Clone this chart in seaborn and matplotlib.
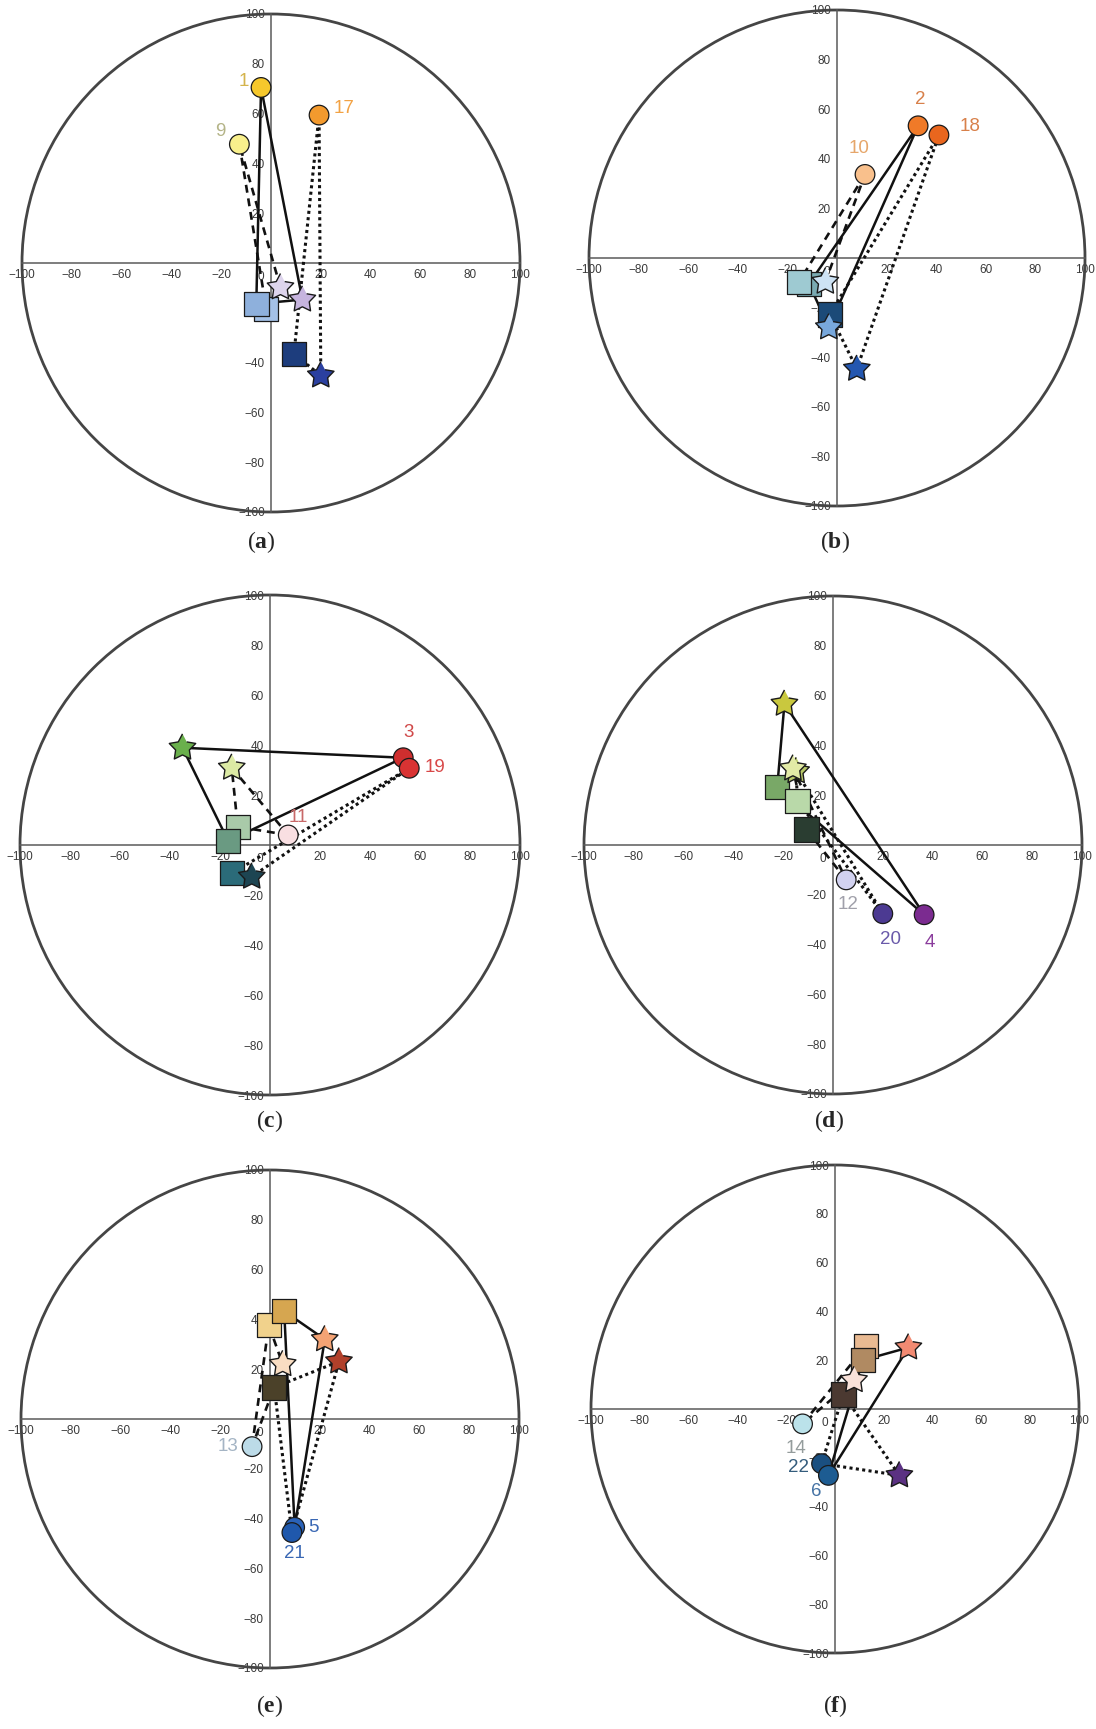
import matplotlib
matplotlib.use("Agg")
import matplotlib.pyplot as plt
import numpy as np
import pandas as pd
import seaborn as sns
from matplotlib.patches import Circle

# ---------------- data ----------------
# each panel: three groups (solid, dashed, dotted); group i = circle i, square i, star i
TICKS = list(range(-100, 101, 20))

A_LABELS = ['1', '9', '17']
A_CIRCLE_X = [-4.0, -12.7, 19.3]
A_CIRCLE_Y = [70.5, 47.7, 59.4]
A_SQUARE_X = [-5.9, -1.9, 9.2]
A_SQUARE_Y = [-16.4, -18.4, -36.5]
A_STAR_X = [12.6, 3.8, 20.0]
A_STAR_Y = [-14.7, -9.8, -45.2]
A_LABEL_X = [-11.0, -20.5, 29.5]
A_LABEL_Y = [73.0, 53.0, 62.0]

B_LABELS = ['2', '10', '18']
B_CIRCLE_X = [32.7, 11.3, 41.1]
B_CIRCLE_Y = [53.3, 33.7, 49.6]
B_SQUARE_X = [-11.3, -15.3, -2.9]
B_SQUARE_Y = [-10.4, -9.6, -22.7]
B_STAR_X = [-3.3, -4.7, 8.0]
B_STAR_Y = [-28.0, -9.6, -44.7]
B_LABEL_X = [33.5, 9.0, 53.5]
B_LABEL_Y = [64.0, 44.0, 53.0]

C_LABELS = ['3', '11', '19']
C_CIRCLE_X = [53.3, 7.3, 55.7]
C_CIRCLE_Y = [34.9, 4.0, 30.7]
C_SQUARE_X = [-16.7, -12.9, -15.3]
C_SQUARE_Y = [1.6, 7.3, -11.3]
C_STAR_X = [-35.0, -15.3, -7.3]
C_STAR_Y = [38.9, 30.9, -12.7]
C_LABEL_X = [55.5, 11.5, 66.0]
C_LABEL_Y = [45.0, 11.0, 31.0]

D_LABELS = ['4', '12', '20']
D_CIRCLE_X = [36.6, 5.3, 20.0]
D_CIRCLE_Y = [-28.0, -14.0, -27.6]
D_SQUARE_X = [-22.4, -10.7, -14.3]
D_SQUARE_Y = [23.3, 6.3, 17.7]
D_STAR_X = [-19.5, -16.1, -14.8]
D_STAR_Y = [56.7, 30.7, 29.6]
D_LABEL_X = [39.0, 6.0, 23.0]
D_LABEL_Y = [-39.0, -24.0, -38.0]

E_LABELS = ['5', '13', '21']
E_CIRCLE_X = [9.9, -7.2, 8.8]
E_CIRCLE_Y = [-43.5, -11.1, -45.6]
E_SQUARE_X = [5.7, -0.5, 1.7]
E_SQUARE_Y = [43.3, 37.7, 12.7]
E_STAR_X = [22.0, 5.1, 27.7]
E_STAR_Y = [32.0, 22.0, 23.1]
E_LABEL_X = [17.5, -17.0, 10.0]
E_LABEL_Y = [-43.5, -11.0, -54.0]

F_LABELS = ['6', '14', '22']
F_CIRCLE_X = [-2.7, -13.3, -5.5]
F_CIRCLE_Y = [-27.2, -6.1, -22.4]
F_SQUARE_X = [11.4, 12.7, 3.4]
F_SQUARE_Y = [20.0, 25.9, 5.9]
F_STAR_X = [30.1, 7.8, 26.4]
F_STAR_Y = [25.2, 11.8, -27.2]
F_LABEL_X = [-7.5, -16.0, -15.0]
F_LABEL_Y = [-34.0, -16.0, -24.0]

PANEL_NAMES = ['a', 'b', 'c', 'd', 'e', 'f']

# ---------------- styles ----------------
CIRCLE_COLORS = {
    'a': ['#f6c82c', '#f9f08c', '#f39a2e'],
    'b': ['#f07a28', '#f9c08c', '#e9661e'],
    'c': ['#cf2e2e', '#f9dfe2', '#d93333'],
    'd': ['#7b2b90', '#d2d2f0', '#4c3a92'],
    'e': ['#2a62b8', '#bcdbe8', '#1f58ac'],
    'f': ['#1d5c92', '#bbe2ea', '#1a4f80'],
}
SQUARE_COLORS = {
    'a': ['#8eb0dc', '#a4c1e7', '#1d3d7d'],
    'b': ['#7aaab2', '#9ecad2', '#1b4a78'],
    'c': ['#6a9a82', '#a9caa9', '#2b6b79'],
    'd': ['#79a867', '#2a3d31', '#b9d9a9'],
    'e': ['#d6a650', '#f1d28c', '#4b4129'],
    'f': ['#b08a62', '#e9ba92', '#4b3931'],
}
STAR_COLORS = {
    'a': ['#c6b4de', '#ddd4ec', '#2b40a0'],
    'b': ['#78a8dc', '#cde3f5', '#2457b0'],
    'c': ['#6ab04c', '#dceaa4', '#1d4552'],
    'd': ['#c9c83e', '#e2eaa6', '#b8c868'],
    'e': ['#f4a374', '#f9ddc2', '#b1402a'],
    'f': ['#f28a72', '#f9e2da', '#5b3182'],
}
LABEL_COLORS = {
    'a': ['#d4b44c', '#b4b488', '#f2a244'],
    'b': ['#d8804a', '#e6a66a', '#d8804a'],
    'c': ['#d04848', '#c86868', '#d84848'],
    'd': ['#8a3c9c', '#a0a0aa', '#6a5aaa'],
    'e': ['#3a68b4', '#a4b4c4', '#3a68b4'],
    'f': ['#4472a4', '#949c9c', '#345c7c'],
}
# draw order (back to front)
CIRCLE_ORDER = {'a': [0, 1, 2], 'b': [0, 1, 2], 'c': [1, 0, 2], 'd': [0, 1, 2], 'e': [1, 0, 2], 'f': [1, 2, 0]}
SQUARE_ORDER = {'a': [1, 0, 2], 'b': [0, 1, 2], 'c': [1, 0, 2], 'd': [0, 2, 1], 'e': [1, 0, 2], 'f': [1, 0, 2]}
STAR_ORDER = {'a': [0, 1, 2], 'b': [1, 2, 0], 'c': [0, 1, 2], 'd': [0, 2, 1], 'e': [0, 1, 2], 'f': [0, 1, 2]}
LINESTYLES = ['-', (0, (3, 2.2)), (0, (1, 1.1))]
LINEWIDTHS = [1.8, 1.9, 2.2]

# a fuller five-pointed star marker
_ang = np.pi / 2 + np.arange(10) * np.pi / 5
_rad = np.where(np.arange(10) % 2 == 0, 1.0, 0.52)
STAR_MARKER = list(zip(_rad * np.cos(_ang), _rad * np.sin(_ang)))

# pixel geometry of each panel: centre x, centre y (from top), radius of the 100 circle
W, H = 1096, 1729
GEOM = {
    'a': (271, 263, 249), 'b': (837, 258, 248),
    'c': (270, 845, 250), 'd': (833, 845, 249),
    'e': (270, 1419, 249), 'f': (835, 1409, 244),
}
LABEL_POS = {
    'a': (261, 542), 'b': (835, 542),
    'c': (270, 1121), 'd': (829, 1121),
    'e': (270, 1706), 'f': (835, 1706),
}
LIM = 104

DATA = {
    'a': (A_LABELS, A_CIRCLE_X, A_CIRCLE_Y, A_SQUARE_X, A_SQUARE_Y, A_STAR_X, A_STAR_Y, A_LABEL_X, A_LABEL_Y),
    'b': (B_LABELS, B_CIRCLE_X, B_CIRCLE_Y, B_SQUARE_X, B_SQUARE_Y, B_STAR_X, B_STAR_Y, B_LABEL_X, B_LABEL_Y),
    'c': (C_LABELS, C_CIRCLE_X, C_CIRCLE_Y, C_SQUARE_X, C_SQUARE_Y, C_STAR_X, C_STAR_Y, C_LABEL_X, C_LABEL_Y),
    'd': (D_LABELS, D_CIRCLE_X, D_CIRCLE_Y, D_SQUARE_X, D_SQUARE_Y, D_STAR_X, D_STAR_Y, D_LABEL_X, D_LABEL_Y),
    'e': (E_LABELS, E_CIRCLE_X, E_CIRCLE_Y, E_SQUARE_X, E_SQUARE_Y, E_STAR_X, E_STAR_Y, E_LABEL_X, E_LABEL_Y),
    'f': (F_LABELS, F_CIRCLE_X, F_CIRCLE_Y, F_SQUARE_X, F_SQUARE_Y, F_STAR_X, F_STAR_Y, F_LABEL_X, F_LABEL_Y),
}

sns.set_style('white')
plt.rcParams['font.family'] = ['Liberation Sans', 'DejaVu Sans']
plt.rcParams['mathtext.fontset'] = 'custom'
plt.rcParams['mathtext.rm'] = 'Liberation Serif'
plt.rcParams['mathtext.bf'] = 'Liberation Serif:bold'
plt.rcParams['axes.unicode_minus'] = True

fig = plt.figure(figsize=(W / 100, H / 100), dpi=100)
fig.patch.set_facecolor('white')


def scatter(ax, xs, ys, colors, order, marker, size, z, lw):
    df = pd.DataFrame({'x': [xs[i] for i in order],
                       'y': [ys[i] for i in order],
                       'k': [f'k{i}' for i in order]})
    pal = {f'k{i}': colors[i] for i in order}
    sns.scatterplot(data=df, x='x', y='y', hue='k', palette=pal, marker=marker,
                    s=size, edgecolor='#1a1a1a', linewidth=lw, legend=False,
                    ax=ax, zorder=z)


for p in PANEL_NAMES:
    labels, cx, cy, sx, sy, tx, ty, lx, ly = DATA[p]
    pcx, pcy, r = GEOM[p]
    half = r * LIM / 100
    ax = fig.add_axes([(pcx - half) / W, (H - pcy - half) / H, 2 * half / W, 2 * half / H])
    ax.set_xlim(-LIM, LIM)
    ax.set_ylim(-LIM, LIM)
    ax.set_facecolor('none')

    # big reference circle
    ax.add_patch(Circle((0, 0), 100, fill=False, ec='#454545', lw=2.0, zorder=1))

    # axis lines through origin
    for side in ['top', 'right']:
        ax.spines[side].set_visible(False)
    for side in ['left', 'bottom']:
        ax.spines[side].set_position(('data', 0))
        ax.spines[side].set_bounds(-100, 100)
        ax.spines[side].set_color('#5a5a5a')
        ax.spines[side].set_linewidth(1.1)
    ax.set_xticks(TICKS)
    ax.set_xticklabels([str(t).replace('-', '\u2212') if t != 0 else '' for t in TICKS])
    yt = [t for t in TICKS if t != 0]
    ax.set_yticks(yt)
    ax.set_yticklabels([str(t).replace('-', '\u2212') for t in yt])
    ax.tick_params(direction='out', length=3, width=0.8, color='#5a5a5a',
                   labelsize=8.5, labelcolor='#3a3a3a', pad=1.5)
    ax.annotate('0', xy=(0, 0), xytext=(-7, -10), textcoords='offset points',
                fontsize=8.5, color='#3a3a3a', ha='center', va='center')

    # connecting triangles
    for g in range(3):
        px = [cx[g], sx[g], tx[g], cx[g]]
        py = [cy[g], sy[g], ty[g], cy[g]]
        sns.lineplot(x=px, y=py, sort=False, estimator=None, ax=ax, color='#111111',
                     linestyle=LINESTYLES[g], linewidth=LINEWIDTHS[g], zorder=3)

    scatter(ax, sx, sy, SQUARE_COLORS[p], SQUARE_ORDER[p], 's', 310, 4, 0.9)
    scatter(ax, tx, ty, STAR_COLORS[p], STAR_ORDER[p], STAR_MARKER, 400, 5, 1.0)
    scatter(ax, cx, cy, CIRCLE_COLORS[p], CIRCLE_ORDER[p], 'o', 200, 6, 0.9)

    for g in range(3):
        ax.text(lx[g], ly[g], labels[g], color=LABEL_COLORS[p][g], fontsize=13.5,
                ha='center', va='center', zorder=7)

    ax.set_xlabel('')
    ax.set_ylabel('')

    lpx, lpy = LABEL_POS[p]
    fig.text(lpx / W, 1 - lpy / H, '($\\mathbf{' + p + '}$)', fontsize=17,
             family='Liberation Serif', ha='center', va='center')

fig.savefig('out.png', dpi=100, facecolor='white')
